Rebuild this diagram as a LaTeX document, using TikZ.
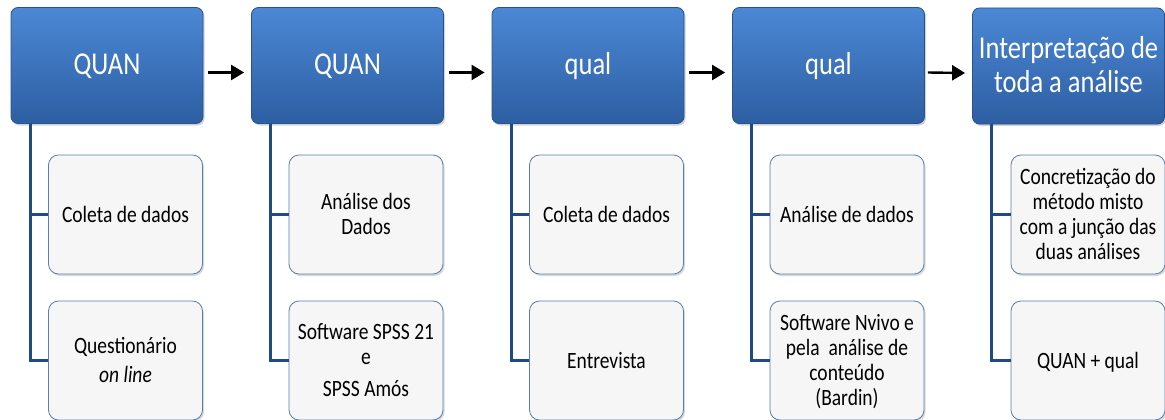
\documentclass[tikz,border=0pt]{standalone}
\usepackage{fontspec}
\usepackage{graphicx}
\setmainfont{Carlito}
\usetikzlibrary{shadows,calc,arrows.meta}
\definecolor{headtop}{HTML}{4B88D5}
\definecolor{headbot}{HTML}{2D5EA2}
\definecolor{headline}{HTML}{28528C}
\definecolor{childfill}{HTML}{F6F6F6}
\definecolor{childline}{HTML}{5A7EAE}
\definecolor{connline}{HTML}{1F4A85}
\newcommand\tallt[1]{\raisebox{-2.5pt}[\height][\depth]{\scalebox{1}[1.2]{\begin{tabular}{@{}c@{}}#1\end{tabular}}}}
\begin{document}
\begin{tikzpicture}[x=1pt,y=-1pt,
  head/.style={rounded corners=7pt, draw=headline, line width=0.8pt,
    top color=headtop, bottom color=headbot,
    minimum width=192pt, minimum height=116pt, inner sep=0pt,
    text=white, align=center, font=\fontsize{26.5}{28}\selectfont,
    drop shadow={shadow xshift=1.5pt, shadow yshift=-2pt, opacity=0.35}},
  child/.style={rounded corners=10pt, draw=childline, line width=0.8pt,
    fill=childfill, minimum width=154pt, minimum height=119pt, inner sep=0pt,
    text=black, align=center, font=\fontsize{19.5}{21}\selectfont,
    drop shadow={shadow xshift=1.5pt, shadow yshift=-2pt, opacity=0.3}},
  conn/.style={draw=connline, line width=2.8pt},
  arr/.style={draw=black, line width=2.4pt, -{Triangle[length=13pt,width=15pt]}}]
\useasboundingbox (0,0) rectangle (1165,420);
% heads
\node[head] (h1) at (107,65.5) {\tallt{QUAN}};
\node[head] (h2) at (347.5,65.5) {\tallt{QUAN}};
\node[head] (h3) at (588,65.5) {\tallt{qual}};
\node[head] (h4) at (828.5,65.5) {\tallt{qual}};
\node[head] (h5) at (1068.5,66) {\tallt{Interpretação de\\toda a análise}};
% children
\node[child] (c11) at (125.5,214.5) {\tallt{Coleta de dados}};
\node[child] (c12) at (125.5,360.5) {\tallt{Questionário\\[3pt]\textit{on line}}};
\node[child] (c21) at (366,214.5) {\tallt{Análise dos\\Dados}};
\node[child] (c22) at (366,360.5) {\tallt{Software SPSS 21\\e\\[6pt]SPSS Amós}};
\node[child] (c31) at (606.5,214.5) {\tallt{Coleta de dados}};
\node[child] (c32) at (606.5,360.5) {\tallt{Entrevista}};
\node[child] (c41) at (847,214.5) {\tallt{Análise de dados}};
\node[child] (c42) at (847,360.5) {\tallt{Software Nvivo e\\pela\ \ análise de\\conteúdo\\(Bardin)}};
\node[child] (c51) at (1088,214.5) {\tallt{Concretização do\\método misto\\com a junção das\\duas análises}};
\node[child] (c52) at (1088,360.5) {\tallt{QUAN + qual}};
% connectors
\foreach \i in {1,...,5}{
  \coordinate (t\i) at ($(h\i.south west)+(19.5,0)$);
  \draw[conn] (t\i) |- (c\i2.west);
  \draw[conn] (t\i |- c\i1.west) -- (c\i1.west);
}
% arrows
\draw[arr] ([yshift=-7pt,xshift=5pt]h1.east) -- ([yshift=-7pt,xshift=-7pt]h2.west);
\draw[arr] ([yshift=-7pt,xshift=5pt]h2.east) -- ([yshift=-7pt,xshift=-7pt]h3.west);
\draw[arr] ([yshift=-7pt,xshift=5pt]h3.east) -- ([yshift=-7pt,xshift=-7pt]h4.west);
\draw[arr] ([yshift=-7pt,xshift=3pt]h4.east) -- ([yshift=-7pt,xshift=-7pt]h5.west);
\end{tikzpicture}
\end{document}
